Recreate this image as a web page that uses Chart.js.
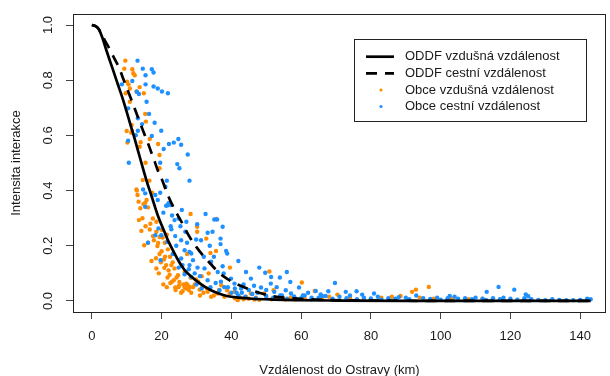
<!DOCTYPE html>
<html><head><meta charset="utf-8">
<script src="https://cdn.jsdelivr.net/npm/chart.js@4.4.1/dist/chart.umd.min.js"></script>
<style>html,body{margin:0;padding:0;background:#fff}</style>
</head><body>
<canvas id="c" width="610" height="376"></canvas>
<script>
// ---- tick labels & titles ----
const xTickValues = [0, 20, 40, 60, 80, 100, 120, 140];
const yTickValues = [0, 0.2, 0.4, 0.6, 0.8, 1.0];
const xTitle = "Vzdálenost do Ostravy (km)";
const yTitle = "Intensita interakce";
const legendLabels = ["ODDF vzdušná vzdálenost", "ODDF cestní vzdálenost", "Obce vzdušná vzdálenost", "Obce cestní vzdálenost"];

// ---- ODDF curves ----
const airDist = [0,1,2,3,4,5,6,7,8,9,10,11,12,13,14,15,16,17,18,19,20,21,22,23,24,25,26,27,28,30,32,34,36,39,42,46,52,58,70,90,143];
const airODDF = [1.000,0.996,0.985,0.955,0.915,0.877,0.840,0.802,0.765,0.727,0.685,0.642,0.600,0.555,0.510,0.465,0.423,0.385,0.345,0.307,0.275,0.245,0.215,0.190,0.165,0.142,0.122,0.106,0.094,0.073,0.055,0.040,0.029,0.017,0.012,0.008,0.005,0.003,0.0015,0.0005,0.0];
const roadDist = [0,1,2,3,4,5,6,7,8,9,10,11,12,13,14,15,16,17,18,19,20,21,22,23,24,25,26,27,28,30,32,34,36,38,40,43,46,49,52,56,62,75,100,143];
const roadODDF = [1.000,0.997,0.985,0.962,0.938,0.915,0.890,0.866,0.840,0.805,0.773,0.740,0.707,0.673,0.640,0.607,0.575,0.540,0.506,0.470,0.443,0.410,0.378,0.350,0.325,0.302,0.280,0.255,0.233,0.195,0.163,0.135,0.108,0.087,0.071,0.053,0.038,0.026,0.017,0.011,0.006,0.002,0.0005,0.0];

// ---- municipalities, air distance [km, intensity] ----
const obceAir = [
[9.6,0.871],[9.3,0.842],[11.6,0.840],[11.9,0.825],[12.3,0.818],[10.1,0.795],[10.5,0.785],[10.9,0.770],[9.7,0.753],[13.7,0.775],[12.8,0.759],[14.9,0.753],[10.9,0.722],[15.3,0.678],
[11.4,0.638],[15.5,0.650],[10.0,0.616],[11.3,0.610],[14.0,0.575],[16.6,0.587],[19.0,0.569],[10.2,0.574],[13.7,0.559],[19.4,0.529],[15.4,0.501],[19.4,0.481],[14.6,0.438],[16.5,0.436],[12.8,0.404],[13.1,0.384],[17.3,0.392],[15.7,0.366],[14.8,0.351],[13.9,0.336],[16.1,0.339],[11.5,0.616],[18.4,0.155],
[15.3,0.356],[13.5,0.293],[17.5,0.299],[18.5,0.287],[15.4,0.271],[16.6,0.259],[14.2,0.254],[18.5,0.251],[20.1,0.257],[17.5,0.235],[19.4,0.232],[16.1,0.211],[15.0,0.202],[18.8,0.199],[20.9,0.211],[19.4,0.170],[21.8,0.187],[20.7,0.150],[17.1,0.145],[22.8,0.130],[18.5,0.118],[22.0,0.111],[23.7,0.118],[24.7,0.093],[26.6,0.105],[23.5,0.075],[25.1,0.069],[26.6,0.049],[23.9,0.049],[27.5,0.057],[28.3,0.085],[21.3,0.130],
[28.3,0.315],[35.7,0.297],[30.2,0.269],[30.2,0.251],[32.8,0.226],[35.6,0.181],[34.0,0.174],[27.3,0.170],[39.6,0.121],[50.9,0.107],[28.5,0.085],[29.9,0.078],[27.1,0.063],[28.0,0.051],[30.9,0.041],[31.8,0.053],[34.2,0.015],[33.2,0.033],[37.1,0.057],[38.8,0.039],[41.8,0.003],[44.2,0.015],[45.6,0.027],[46.6,0.005],[49.4,0.027],[54.2,0.017],[52.1,0.039],[40.9,0.033],[36.1,0.027],
[20.5,0.060],[21.5,0.050],[22.5,0.065],[24.0,0.040],[25.0,0.055],[26.0,0.035],[27.0,0.045],[28.5,0.030],[29.5,0.060],[31.0,0.020],[32.0,0.030],[33.0,0.045],[35.0,0.020],[36.5,0.040],[38.0,0.015],[39.5,0.025],[41.0,0.010],[42.5,0.012],[43.5,0.006],[45.0,0.008],[47.0,0.012],[48.0,0.004],[50.0,0.015],[51.5,0.006],[53.0,0.010],[55.5,0.005],[57.0,0.012],[58.5,0.006],[61.0,0.010],[66.0,0.008],[68.0,0.015],[74.0,0.010],[78.0,0.008],[83.0,0.012],[86.0,0.015],[94.0,0.012],[98.0,0.008],[103.0,0.010],[108.0,0.006],[112.0,0.008],[117.0,0.005],
[60.2,0.067],[96.6,0.051],[92.9,0.041],[91.8,0.033],[63.9,0.036],[70.4,0.023],[88.5,0.018],[19.8,0.140],[21.0,0.160],[22.3,0.095],[24.3,0.085],[20.0,0.180],
[14.5,0.300],[16.8,0.280],[17.8,0.220],[19.0,0.210],[20.3,0.230],[21.5,0.240],[22.4,0.160],[23.2,0.140],[20.8,0.120],[19.2,0.100],[21.7,0.085],[23.0,0.070],[24.8,0.050],[26.2,0.060],[25.6,0.030],[27.8,0.040],[29.0,0.050],[30.5,0.070],[31.5,0.090],[33.5,0.100],[12.9,0.400],[13.4,0.360]
];

// ---- municipalities, road distance [km, intensity] ----
const obceRoad = [
[13.1,0.871],[14.6,0.842],[17.2,0.840],[17.7,0.828],[15.4,0.818],[11.6,0.797],[8.6,0.785],[15.4,0.785],[17.7,0.777],[18.9,0.770],[20.1,0.759],[21.8,0.753],[12.9,0.758],[13.5,0.750],[15.7,0.722],[10.4,0.698],[16.4,0.678],[13.2,0.662],
[18.0,0.646],[14.4,0.641],[13.2,0.617],[19.9,0.617],[12.6,0.601],[17.2,0.598],[10.4,0.581],[20.6,0.551],[22.1,0.569],[23.5,0.574],[24.8,0.587],[25.6,0.566],[10.6,0.501],[19.6,0.501],[24.5,0.496],[25.1,0.481],[28.0,0.436],[21.5,0.436],[14.7,0.404],[15.3,0.390],[19.6,0.392],[21.1,0.414],[18.2,0.384],[18.9,0.366],[22.0,0.354],[21.3,0.345],[22.6,0.348],[15.3,0.341],[27.5,0.531],
[21.8,0.347],[23.7,0.293],[24.9,0.299],[22.6,0.271],[25.4,0.271],[19.1,0.263],[26.8,0.251],[19.9,0.238],[18.2,0.238],[23.9,0.235],[25.6,0.220],[21.6,0.214],[16.1,0.211],[27.3,0.211],[26.6,0.184],[28.5,0.172],[23.2,0.170],[25.6,0.154],[19.7,0.148],[24.9,0.121],[28.0,0.130],[26.6,0.097],[28.5,0.087],
[32.6,0.315],[35.1,0.295],[35.9,0.295],[27.1,0.287],[30.2,0.278],[37.5,0.269],[33.2,0.247],[34.6,0.251],[36.9,0.226],[31.3,0.220],[29.9,0.223],[36.9,0.206],[38.5,0.181],[38.8,0.172],[28.0,0.178],[32.1,0.160],[29.0,0.148],[34.2,0.142],[37.5,0.126],[42.0,0.145],[30.3,0.121],[32.3,0.118],[36.1,0.105],[44.2,0.105],[48.0,0.121],[49.7,0.102],[53.9,0.085],[56.9,0.069],[33.2,0.075],[39.9,0.081],[45.6,0.081],[40.9,0.063],[51.3,0.063],[48.5,0.049],[42.8,0.045],[36.6,0.039],[55.6,0.039],[52.3,0.033],[57.1,0.027],[51.4,0.087],
[55.9,0.105],[59.4,0.049],[69.7,0.065],[67.8,0.035],[72.8,0.033],[75.9,0.035],[77.5,0.023],[80.9,0.027],[64.2,0.036],[65.6,0.024],
[113.2,0.033],[116.6,0.051],[121.1,0.041],[124.4,0.024],[125.1,0.017],[102.6,0.018],
[30.0,0.060],[31.5,0.045],[34.0,0.050],[35.5,0.065],[37.0,0.070],[38.0,0.050],[41.5,0.030],[43.5,0.060],[45.0,0.040],[46.5,0.055],[47.5,0.030],[50.0,0.040],[53.0,0.050],[54.5,0.020],[58.0,0.015],[60.5,0.020],[62.0,0.030],[63.0,0.012],[66.0,0.018],
[22.8,0.260],[24.2,0.200],[26.0,0.130],[27.8,0.115],[29.5,0.100],[31.0,0.090],[33.8,0.200],[35.0,0.160],[37.8,0.100],[39.0,0.050],[41.0,0.045],[43.0,0.030],[20.5,0.320],[23.0,0.310],[25.8,0.330],
[40.0,0.030],[42.0,0.020],[44.0,0.015],[46.0,0.025],[47.0,0.010],[50.0,0.018],[52.0,0.012],[54.0,0.020],[56.0,0.008],[58.0,0.015],[60.0,0.010],[61.0,0.020],[63.0,0.006],[65.0,0.012],[67.0,0.018],[69.0,0.008],[71.0,0.015],[73.0,0.010],[74.0,0.020],[76.0,0.006],[78.0,0.012],[80.0,0.009],[82.0,0.015],[83.0,0.005],[85.0,0.010],[87.0,0.008],[88.0,0.014],[90.0,0.012],[91.0,0.006],[93.0,0.020],[95.0,0.010],[97.0,0.007],[99.0,0.012],[100.0,0.005],[102.0,0.010],[104.0,0.015],[105.0,0.008],[107.0,0.010],[109.0,0.006],[110.0,0.012],[112.0,0.008],[113.0,0.004],[115.0,0.010],[117.0,0.006],[118.0,0.012],[120.0,0.008],[122.0,0.005],[124.0,0.010],[126.0,0.006],[128.0,0.004],[130.0,0.003],[132.0,0.006],[134.0,0.004],[136.0,0.003],[138.0,0.003],[140.0,0.004],[142.0,0.008],[143.0,0.006]
];

// ---- styles ----
const ORANGE = '#FF8C00', BLUE = '#1E90FF', INK = '#1a1a1a';
const FONT = '"Liberation Sans", Arial, Helvetica, sans-serif';
Chart.defaults.font.family = FONT;
Chart.defaults.color = INK;

const toXY = (xs, ys) => xs.map((x, i) => ({x, y: ys[i]}));
const toPts = a => a.map(p => ({x: p[0], y: p[1]}));

const boxLegend = {
  id: 'boxLegend',
  afterDatasetsDraw(chart) {
    const {ctx, chartArea: a} = chart;
    ctx.save();
    ctx.strokeStyle = '#222'; ctx.lineWidth = 1;
    ctx.strokeRect(Math.round(a.left) + 0.5, Math.round(a.top) + 0.5, Math.round(a.right - a.left) - 1, Math.round(a.bottom - a.top));
    ctx.restore();
  },
  afterDraw(chart) {
    const {ctx} = chart;
    ctx.save();
    const bx = 354, by = 39, bw = 232, bh = 82;
    ctx.fillStyle = '#fff'; ctx.fillRect(bx, by, bw, bh);
    ctx.strokeStyle = '#222'; ctx.lineWidth = 1;
    ctx.strokeRect(bx + 0.5, by + 0.5, bw, bh);
    const rows = [56.7, 73.3, 90, 106.5];
    ctx.lineWidth = 2.7; ctx.strokeStyle = '#000';
    ctx.beginPath(); ctx.moveTo(366, rows[0]); ctx.lineTo(394, rows[0]); ctx.stroke();
    ctx.setLineDash([11, 8]);
    ctx.beginPath(); ctx.moveTo(366, rows[1]); ctx.lineTo(394, rows[1]); ctx.stroke();
    ctx.setLineDash([]);
    ctx.fillStyle = ORANGE; ctx.beginPath(); ctx.arc(381, rows[2], 1.6, 0, Math.PI * 2); ctx.fill();
    ctx.fillStyle = BLUE; ctx.beginPath(); ctx.arc(381, rows[3], 1.6, 0, Math.PI * 2); ctx.fill();
    ctx.fillStyle = INK; ctx.font = '13px ' + FONT; ctx.textBaseline = 'middle'; ctx.textAlign = 'left';
    legendLabels.forEach((t, i) => ctx.fillText(t, 405, rows[i]));
    ctx.restore();
  }
};

new Chart(document.getElementById('c'), {
  type: 'scatter',
  data: {
    datasets: [
      {label: legendLabels[0], data: toXY(airDist, airODDF), showLine: true, borderColor: '#000', borderWidth: 2.7, pointRadius: 0, cubicInterpolationMode: 'monotone', order: 0},
      {label: legendLabels[1], data: toXY(roadDist, roadODDF), showLine: true, borderColor: '#000', borderWidth: 2.7, borderDash: [11, 8], pointRadius: 0, cubicInterpolationMode: 'monotone', order: 1},
      {label: legendLabels[2], data: toPts(obceAir), backgroundColor: ORANGE, pointBackgroundColor: ORANGE, pointRadius: 2.2, pointBorderWidth: 0, borderWidth: 0, order: 3},
      {label: legendLabels[3], data: toPts(obceRoad), backgroundColor: BLUE, pointBackgroundColor: BLUE, pointRadius: 2.2, pointBorderWidth: 0, borderWidth: 0, order: 2}
    ]
  },
  options: {
    responsive: false, devicePixelRatio: 1, animation: false, events: [],
    layout: {padding: {top: 14, right: 2, left: 0, bottom: 0}},
    plugins: {legend: {display: false}, tooltip: {enabled: false}},
    scales: {
      x: {
        type: 'linear', position: 'bottom', min: -5.4, max: 147.4,
        afterBuildTicks: s => { s.ticks = xTickValues.map(v => ({value: v})); },
        afterFit: s => { s.height = 64; s.paddingLeft = 0; s.paddingRight = 0; },
        grid: {display: true, drawOnChartArea: false, drawTicks: true, tickLength: 7, tickColor: '#444', tickWidth: 1},
        border: {display: false},
        ticks: {padding: 10, color: INK, font: {size: 13}, minRotation: 0, maxRotation: 0, autoSkip: false, callback: v => String(v)},
        title: {display: true, text: xTitle, color: INK, font: {size: 13, lineHeight: 0.8}, padding: {top: 0, bottom: 0}}
      },
      y: {
        type: 'linear', position: 'left', min: -0.04, max: 1.04,
        afterBuildTicks: s => { s.ticks = yTickValues.map(v => ({value: v})); },
        afterFit: s => { s.width = 73; s.paddingTop = 0; s.paddingBottom = 0; },
        grid: {display: true, drawOnChartArea: false, drawTicks: true, tickLength: 7, tickColor: '#444', tickWidth: 1},
        border: {display: false},
        ticks: {padding: 9, crossAlign: 'center', minRotation: 90, maxRotation: 90, autoSkip: false, color: INK, font: {size: 13}, callback: v => Number(v).toFixed(1)},
        title: {display: true, text: yTitle, color: INK, font: {size: 13}, padding: {top: 9, bottom: 0}}
      }
    }
  },
  plugins: [boxLegend]
});
</script>
</body></html>
